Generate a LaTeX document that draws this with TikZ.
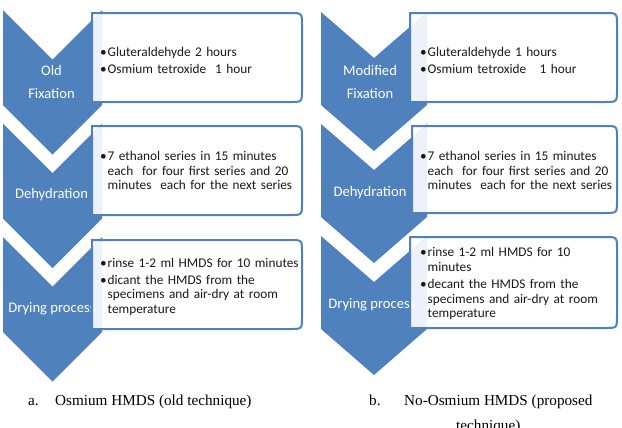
\documentclass[tikz,border=0pt]{standalone}
\usepackage{fontspec}
\setmainfont{Carlito}
\newfontfamily\capfont{Liberation Serif}
\definecolor{accblue}{HTML}{4F81BD}
\newcommand\bul[1]{\par\hangindent=7.5bp\hangafter=1\noindent\hbox to 7.5bp{•\hss}#1\par}
\newcommand\psep{\vskip 3bp}
\newcommand\nl{\hfil\break}
% chevron: L, R, top, notch depth, side length
\newcommand\chevron[5]{\path[chev] (#1,#3) -- ({(#1+#2)/2},{#3+#4}) -- (#2,#3) -- (#2,{#3+#5}) -- ({(#1+#2)/2},{#3+#5+#4}) -- (#1,{#3+#5}) -- cycle;}
% box: L, R, top, bottom
\newcommand\tbox[4]{\path[boxst] (#1,#4) -- (#1,#3) -- ({#2-12},#3) .. controls (#2,#3) .. (#2,{#3+12}) -- (#2,{#4-12}) .. controls (#2,#4) .. ({#2-12},#4) -- cycle;}
\begin{document}
\begin{tikzpicture}[x=1bp,y=-1bp,
  chev/.style={fill=accblue},
  boxst/.style={draw=accblue, line width=2bp, fill=white, fill opacity=0.9},
  lbl/.style={text=white, font=\fontsize{14.6bp}{23bp}\selectfont, align=center, inner sep=0},
  body/.style={anchor=west, inner sep=0, text width=205bp, text=black!90,
    font=\fontsize{13.3bp}{14.4bp}\selectfont},
  captext/.style={anchor=base west, inner sep=0, font=\capfont\fontsize{15.2bp}{18bp}\selectfont}]
\useasboundingbox (0,0) rectangle (622,427);

% ---------- left column ----------
\chevron{3}{102}{10}{49.5}{95}
\chevron{3}{102}{123.5}{49.5}{95}
\chevron{3}{102}{237}{49.5}{95}
\node[lbl] (l1) at (51.5,82) {Old\\Fixation};
\node[lbl] (l2) at (51.5,195) {Dehydration};
\node[lbl] (l3) at (52,309) {Drying process};
\tbox{92}{302}{13}{102}
\tbox{92}{302}{126}{215}
\tbox{92}{302}{240}{329}
\node[body] (t1) at (100,58) {\raggedright\bul{Gluteraldehyde 2 hours}\psep\bul{Osmium tetroxide\ \ 1 hour}};
\node[body] (t2) at (100,168) {\raggedright\bul{7 ethanol series in 15 minutes\nl each\ \ for four first series and 20\nl minutes\ \ each for the next series}};
\node[body] (t3) at (100,284) {\raggedright\bul{rinse 1-2 ml HMDS for 10 minutes}\psep\bul{dicant the HMDS from the\nl specimens and air-dry at room\nl temperature}};

% ---------- right column ----------
\chevron{321}{427}{12}{46}{93}
\chevron{321}{427}{124}{46}{93}
\chevron{321}{427}{236}{46}{93}
\node[lbl] (r1) at (370,82) {Modified\\Fixation};
\node[lbl] (r2) at (370,193) {Dehydration};
\node[lbl] (r3) at (372,305) {Drying process};
\tbox{410}{617}{13}{102}
\tbox{412}{617}{126}{213}
\tbox{410}{617}{237}{328}
\node[body] (u1) at (420,58) {\raggedright\bul{Gluteraldehyde 1 hours}\psep\bul{Osmium tetroxide\ \ \ 1 hour}};
\node[body] (u2) at (420,168) {\raggedright\bul{7 ethanol series in 15 minutes\nl each\ \ for four first series and 20\nl minutes\ \ each for the next series}};
\node[body] (u3) at (420,281) {\raggedright\bul{rinse 1-2 ml HMDS for 10\nl minutes}\psep\bul{decant the HMDS from the\nl specimens and air-dry at room\nl temperature}};

% ---------- captions ----------
\node[captext] (ca) at (28,405) {a.};
\node[captext] (cat) at (55,405) {Osmium HMDS (old technique)};
\node[captext] (cb) at (369,405) {b.};
\node[captext] (cbt) at (404,405) {No-Osmium HMDS (proposed};
\node[captext] (cbt2) at (456,430) {technique)};
\end{tikzpicture}
\end{document}
